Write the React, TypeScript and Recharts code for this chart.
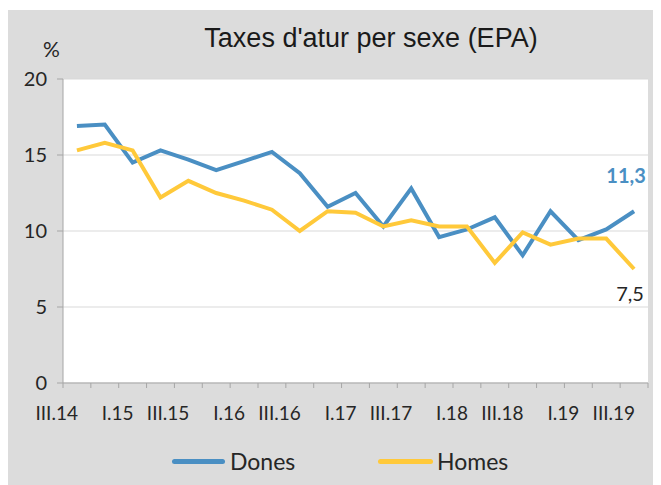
import { CartesianGrid, LabelList, Legend, Line, LineChart, XAxis, YAxis } from "recharts";

const quarters = [
  "III.14", "IV.14", "I.15", "II.15", "III.15", "IV.15", "I.16", "II.16", "III.16", "IV.16",
  "I.17", "II.17", "III.17", "IV.17", "I.18", "II.18", "III.18", "IV.18", "I.19", "II.19", "III.19",
];
const dones = [
  16.9, 17.0, 14.5, 15.3, 14.7, 14.0, 14.6, 15.2, 13.8, 11.6,
  12.5, 10.3, 12.8, 9.6, 10.1, 10.9, 8.4, 11.3, 9.4, 10.1, 11.3,
];
const homes = [
  15.3, 15.8, 15.3, 12.2, 13.3, 12.5, 12.0, 11.4, 10.0, 11.3,
  11.2, 10.3, 10.7, 10.3, 10.3, 7.9, 9.9, 9.1, 9.5, 9.5, 7.5,
];
const yTicks = [0, 5, 10, 15, 20];

const data = quarters.map((q, i) => ({ q, dones: dones[i], homes: homes[i] }));

const BLUE = "#4a8fc3";
const YELLOW = "#ffc93a";
const AXIS = "#a6a6a6";
const TEXT = "#262626";
const FONT = "Lato, 'Open Sans', sans-serif";
const HALF = 585 / quarters.length / 2;

function QuarterTick(props: any) {
  const { x, y, index, payload } = props;
  const last = index === quarters.length - 1;
  return (
    <g>
      <line x1={x - HALF} x2={x - HALF} y1={y} y2={y + 5} stroke={AXIS} />
      {last && <line x1={x + HALF} x2={x + HALF} y1={y} y2={y + 5} stroke={AXIS} />}
      {index % 2 === 0 && (
        <text x={x + 1} y={y + 37} textAnchor="end" fill={TEXT} fontSize={19} fontFamily={FONT}>
          {payload.value}
        </text>
      )}
    </g>
  );
}

function endLabel(color: string, dx: number, dy: number, bold: boolean) {
  return (props: any) => {
    const { x, y, index, value } = props;
    if (index !== quarters.length - 1) return null;
    return (
      <text
        x={x + dx}
        y={y + dy}
        textAnchor="middle"
        fill={color}
        fontSize={20}
        fontWeight={bold ? 700 : 400}
        fontFamily={FONT}
      >
        {String(value).replace(".", ",")}
      </text>
    );
  };
}

function LegendBox() {
  return (
    <div style={{ position: "relative", width: 653, height: 30, fontFamily: FONT, fontSize: 23, color: TEXT }}>
      <div style={{ position: "absolute", left: 164, top: 13, width: 53, height: 5, borderRadius: 3, background: BLUE }} />
      <div style={{ position: "absolute", left: 222, top: 0, lineHeight: "30px" }}>Dones</div>
      <div style={{ position: "absolute", left: 370, top: 13, width: 55, height: 5, borderRadius: 3, background: YELLOW }} />
      <div style={{ position: "absolute", left: 429, top: 0, lineHeight: "30px" }}>Homes</div>
    </div>
  );
}

export default function App() {
  return (
    <div style={{ position: "relative", width: 653, height: 475, marginTop: 2, background: "#dcdcdc" }}>
      <div
        style={{
          position: "absolute",
          left: 0,
          width: 726,
          top: 13,
          textAlign: "center",
          fontFamily: "'Liberation Sans', Arial, sans-serif",
          fontSize: 27,
          color: "#1a1a1a",
          lineHeight: "30px",
        }}
      >
        Taxes d'atur per sexe (EPA)
      </div>
      <div
        style={{
          position: "absolute",
          left: 35,
          top: 27,
          fontFamily: FONT,
          fontSize: 21,
          color: TEXT,
          lineHeight: "24px",
        }}
      >
        %
      </div>
      <LineChart width={653} height={475} data={data} margin={{ top: 69, right: 13, left: 0, bottom: 9 }}>
        <CartesianGrid vertical={false} stroke="#d9d9d9" fill="#ffffff" />
        <XAxis
          dataKey="q"
          stroke={AXIS}
          tickLine={false}
          tickSize={0}
          tickMargin={0}
          interval={0}
          height={63}
          padding={{ left: HALF, right: HALF }}
          tick={<QuarterTick />}
        />
        <YAxis
          domain={[0, 20]}
          ticks={yTicks}
          width={55}
          stroke={AXIS}
          tickSize={6}
          tickMargin={10}
          tick={{ fill: TEXT, fontSize: 20, fontFamily: FONT }}
        />
        <Legend verticalAlign="bottom" content={() => <LegendBox />} />
        <Line
          dataKey="dones"
          stroke={BLUE}
          strokeWidth={4}
          dot={false}
          isAnimationActive={false}
        >
          <LabelList dataKey="dones" content={endLabel(BLUE, -8, -28, true)} />
        </Line>
        <Line
          dataKey="homes"
          stroke={YELLOW}
          strokeWidth={4}
          dot={false}
          isAnimationActive={false}
        >
          <LabelList dataKey="homes" content={endLabel(TEXT, -4, 32, false)} />
        </Line>
      </LineChart>
    </div>
  );
}
